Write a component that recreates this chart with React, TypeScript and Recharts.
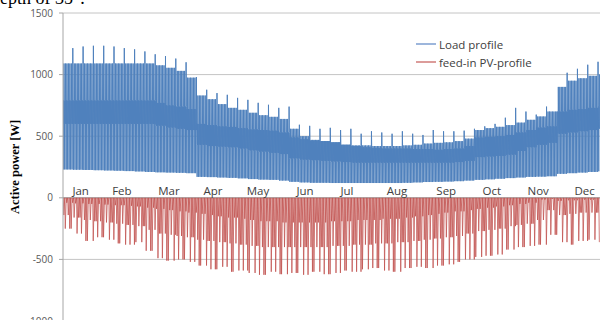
import {
  CartesianGrid,
  ComposedChart,
  Legend,
  Line,
  ReferenceDot,
  ReferenceLine,
  XAxis,
  YAxis,
} from "recharts";

const months = ["Jan", "Feb", "Mar", "Apr", "May", "Jun", "Jul", "Aug", "Sep", "Oct", "Nov", "Dec"];
// day of year where each month name sits on the zero line
const monthLabelDays = [12, 40, 72, 102, 132.5, 164.5, 193, 227, 260.5, 291.5, 323, 354.5];
const yTicks = [-1000, -500, 0, 500, 1000, 1500];

// weekly readings of the load profile [W], week 0 = first week of January
const loadBase = [
  230, 228, 226, 224, 222, 220, 217, 214, 210, 207, 205, 203, 200, 170, 168, 165, 162, 158,
  152, 148, 146, 140, 130, 125, 122, 122, 120, 120, 120, 120, 120, 120, 120, 122, 125, 128,
  130, 132, 135, 140, 146, 150, 155, 160, 165, 170, 172, 175, 195, 200, 205, 210, 215,
];
const loadBandLow = [
  600, 600, 600, 600, 600, 600, 600, 600, 600, 585, 570, 560, 550, 430, 420, 415, 410, 400,
  385, 375, 365, 355, 320, 310, 305, 300, 295, 290, 285, 285, 285, 285, 285, 285, 285, 285,
  285, 285, 290, 300, 330, 335, 340, 350, 380, 410, 430, 446, 520, 530, 540, 550, 560,
];
const loadBandHigh = [
  790, 790, 790, 790, 790, 790, 790, 790, 790, 770, 750, 740, 720, 600, 590, 580, 575, 565,
  555, 550, 545, 530, 490, 475, 465, 460, 450, 430, 420, 410, 405, 400, 400, 400, 395, 395,
  390, 395, 400, 420, 490, 495, 500, 510, 530, 550, 570, 580, 700, 714, 720, 730, 740,
];
const loadDailyMax = [
  1090, 1090, 1090, 1090, 1090, 1090, 1090, 1090, 1090, 1075, 1055, 1030, 975, 830, 800, 760,
  730, 714, 690, 670, 657, 640, 560, 500, 470, 450, 440, 430, 425, 425, 420, 420, 420, 425,
  430, 440, 446, 450, 460, 480, 550, 565, 576, 590, 610, 633, 660, 700, 900, 950, 970, 990,
  1000,
];
const loadWeeklyPeak = [
  1215, 1228, 1234, 1234, 1228, 1215, 1205, 1188, 1165, 1150, 1130, 1100, 980, 877, 850, 836,
  811, 795, 771, 755, 730, 740, 593, 584, 560, 568, 550, 560, 520, 540, 530, 520, 540, 520,
  510, 550, 540, 540, 545, 560, 580, 600, 650, 730, 700, 675, 740, 700, 1015, 1047, 1080,
  1104, 1000,
];

// weekly readings of the PV feed-in [W]: deep (sunny), mid and shallow (cloudy) days
const pvDeep = [
  -250, -290, -350, -320, -340, -370, -380, -360, -430, -490, -510, -500, -520, -550, -580,
  -560, -600, -590, -610, -625, -600, -620, -610, -625, -600, -620, -610, -590, -600, -580,
  -570, -590, -600, -570, -560, -570, -550, -540, -520, -500, -480, -470, -460, -420, -400,
  -390, -380, -300, -360, -380, -350, -340, -360,
];
const pvMid = [
  -140, -160, -180, -190, -200, -210, -220, -230, -260, -290, -300, -310, -320, -340, -350,
  -360, -370, -380, -390, -400, -400, -400, -400, -400, -400, -400, -390, -390, -380, -380,
  -370, -370, -360, -360, -350, -340, -330, -320, -310, -290, -270, -260, -250, -230, -220,
  -210, -180, -100, -140, -130, -120, -120, -130,
];
const pvShallow = [
  -40, -45, -50, -50, -55, -60, -65, -70, -80, -90, -100, -110, -120, -130, -140, -150, -160,
  -170, -180, -190, -190, -200, -200, -200, -200, -200, -190, -190, -180, -180, -180, -170,
  -170, -160, -150, -140, -130, -120, -110, -100, -90, -80, -70, -60, -50, -40, -15, -10, -25,
  -20, -15, -15, -20,
];
// kind of day in a repeating 11-day run of weather (0 deep, 1 mid, 2 shallow)
const pvDayPattern = [1, 0, 2, 1, 0, 0, 2, 1, 2, 0, 1];

const BLUE = "#4F81BD";
const RED = "#C0504D";
const FONT = "'Open Sans', 'Liberation Sans', sans-serif";

const loadData: { t: number; load: number }[] = [];
const pvData: { t: number; pv: number }[] = [];
for (let d = 0; d < 365; d++) {
  const w = Math.floor(d / 7);
  const top = d % 7 === 6 ? loadWeeklyPeak[w] : loadDailyMax[w];
  const day = [loadBandLow[w], loadBase[w], loadBandHigh[w], loadBandLow[w], top, loadBandHigh[w]];
  day.forEach((v, k) => loadData.push({ t: d + k / 6, load: v }));

  const levels = [pvDeep[w], pvMid[w], pvShallow[w]];
  pvData.push({ t: d + 0.2, pv: 0 });
  pvData.push({ t: d + 0.55, pv: levels[pvDayPattern[d % pvDayPattern.length]] });
}

const legendItems = [
  { label: "Load profile", color: "#9DB6DC" },
  { label: "feed-in PV-profile", color: "#DC9C9A" },
];

function ChartLegend() {
  return (
    <div style={{ fontFamily: FONT, fontSize: 11.5, color: "#404040" }}>
      {legendItems.map((item) => (
        <div key={item.label} style={{ display: "flex", alignItems: "center", height: 18 }}>
          <span style={{ width: 20, height: 1.5, background: item.color, marginRight: 3 }} />
          {item.label}
        </div>
      ))}
    </div>
  );
}

function YLabel({ viewBox }: { viewBox?: { y: number; height: number } }) {
  const cy = viewBox ? viewBox.y + viewBox.height / 2 : 167;
  return (
    <text
      x={19}
      y={cy}
      transform={`rotate(-90 19 ${cy})`}
      textAnchor="middle"
      fontFamily="'Liberation Serif', serif"
      fontWeight="bold"
      fontSize={12.5}
      fill="#000"
    >
      Active power [W]
    </text>
  );
}

export default function App() {
  return (
    <div style={{ position: "relative", width: 600, height: 320, overflow: "hidden" }}>
      <style>{`body{margin:0;overflow:hidden}`}</style>
      <div
        style={{
          position: "absolute",
          left: -9,
          top: -11,
          fontFamily: "'Liberation Serif', serif",
          fontSize: 18,
          lineHeight: "18px",
          whiteSpace: "nowrap",
        }}
      >
        depth of 35°.
      </div>
      <ComposedChart
        width={600}
        height={330}
        margin={{ top: 13, right: 0, left: 0, bottom: 9 }}
      >
        <CartesianGrid horizontal vertical={false} stroke="#C4C4C4" />
        <XAxis type="number" dataKey="t" domain={[0, 365]} hide allowDataOverflow />
        <YAxis
          type="number"
          domain={[-1000, 1500]}
          ticks={yTicks}
          width={63}
          tickSize={4}
          tickMargin={6}
          axisLine={{ stroke: "#A6A6A6" }}
          tickLine={{ stroke: "#A6A6A6" }}
          tick={{ fill: "#595959", fontSize: 10, fontFamily: FONT }}
          label={<YLabel />}
        />
        <ReferenceLine y={0} stroke="#9E9E9E" />
        <Line
          data={loadData}
          dataKey="load"
          type="linear"
          stroke={BLUE}
          strokeWidth={1}
          dot={false}
          isAnimationActive={false}
        />
        <Line
          data={pvData}
          dataKey="pv"
          type="linear"
          stroke={RED}
          strokeWidth={0.75}
          dot={false}
          isAnimationActive={false}
        />
        {months.map((m, i) => (
          <ReferenceDot
            key={m}
            x={monthLabelDays[i]}
            y={0}
            r={0}
            fill="none"
            stroke="none"
            label={{ value: m, position: "top", offset: 3, fill: "#404040", fontSize: 11.5, fontFamily: FONT }}
          />
        ))}
        <Legend
          layout="vertical"
          align="center"
          verticalAlign="middle"
          wrapperStyle={{ left: 416, top: 35, width: 170 }}
          content={<ChartLegend />}
        />
      </ComposedChart>
    </div>
  );
}
